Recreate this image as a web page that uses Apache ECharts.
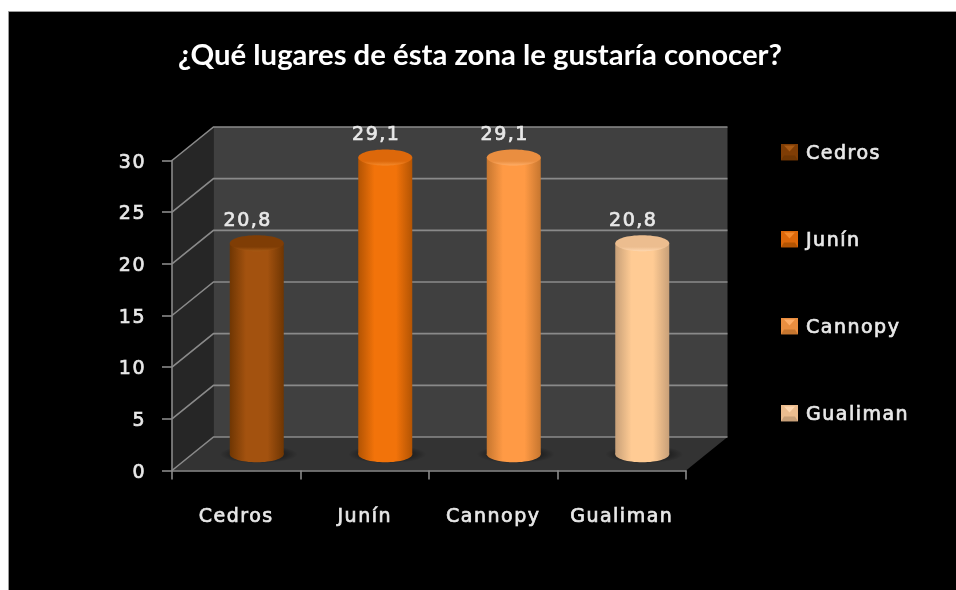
<!DOCTYPE html>
<html><head><meta charset="utf-8">
<style>
html,body{margin:0;padding:0;background:#fff}
#c{width:956px;height:590px;filter:blur(.45px)}
#c text[style*="DejaVu"]{letter-spacing:1.5px;stroke:#e8e8e8;stroke-width:.7px}
</style>
<script src="https://cdn.jsdelivr.net/npm/echarts@6/dist/echarts.min.js"></script>
</head><body><div id="c"></div>
<script>
const titleText = '¿Qué lugares de ésta zona le gustaría conocer?';
const categories = ['Cedros','Junín','Cannopy','Gualiman'];
const values = [20.8, 29.1, 29.1, 20.8];
const yTicks = [0,5,10,15,20,25,30];
const edgeColors = ['#6f3603','#b35403','#c6762f','#c8a078'];
const midColors = ['#a3520f','#f2730a','#ff9a45','#ffcb94'];
const topColors = ['#7f3d05','#dd680a','#ea8e40','#ecbd8f'];
const rimColors = ['#a85a14','#f58a2c','#ffae68','#ffd8b0'];

const DX = 41.5, DY = -33.5;      // depth of the fake 3D box
const LABEL = '#e8e8e8', GRID = '#8a8a8a';
const FONT = 'DejaVu Sans';

function pts(arr){ return {points: arr}; }

function renderBox(params, api){
  const cs = params.coordSys;
  const l = cs.x, r = cs.x + cs.width, t = cs.y, b = cs.y + cs.height;
  const children = [
    {type:'polygon', shape:pts([[l,t],[l+DX,t+DY],[l+DX,b+DY],[l,b]]), style:{fill:'#262626'}},
    {type:'polygon', shape:pts([[l+DX,t+DY],[r+DX,t+DY],[r+DX,b+DY],[l+DX,b+DY]]), style:{fill:'#404040'}},
    {type:'polygon', shape:pts([[l,b],[r,b],[r+DX,b+DY],[l+DX,b+DY]]), style:{fill:'#333333'}}
  ];
  yTicks.forEach(v=>{
    const y = api.coord([0,v])[1];
    children.push({type:'polyline', shape:pts([[l,y],[l+DX,y+DY],[r+DX,y+DY]]),
      style:{stroke:GRID, lineWidth:1.6, fill:'none'}});
  });
  return {type:'group', children};
}

function renderCylinder(idx){
  return function(params, api){
    const base = api.coord([api.value(0), 0]);
    const top = api.coord([api.value(0), api.value(1)]);
    const cx = base[0] + 20.5, rx = 27, ry = 8;
    const by = base[1] - 16.2, ty = top[1] - 12.2;
    const grad = {type:'linear',x:0,y:0,x2:1,y2:0,colorStops:[
      {offset:0,color:edgeColors[idx]},{offset:.3,color:midColors[idx]},
      {offset:.7,color:midColors[idx]},{offset:1,color:edgeColors[idx]}]};
    const topGrad = {type:'linear',x:0,y:0,x2:0,y2:1,colorStops:[
      {offset:0,color:topColors[idx]},{offset:.72,color:topColors[idx]},{offset:1,color:rimColors[idx]}]};
    const shadow = {type:'radial',x:.5,y:.5,r:.5,colorStops:[
      {offset:0,color:'rgba(0,0,0,.55)'},{offset:.7,color:'rgba(0,0,0,.3)'},{offset:1,color:'rgba(0,0,0,0)'}]};
    return {type:'group', children:[
      {type:'ellipse', shape:{cx:cx+2, cy:by, rx:rx+12, ry:ry+1}, style:{fill:shadow}},
      {type:'ellipse', shape:{cx, cy:by, rx, ry}, style:{fill:grad}},
      {type:'rect', shape:{x:cx-rx, y:ty, width:rx*2, height:by-ty}, style:{fill:grad}},
      {type:'ellipse', shape:{cx, cy:ty, rx, ry}, style:{fill:topGrad}},
      {type:'text', style:{text:String(api.value(1)).replace('.',','), x:cx-9, y:ty-24.5,
        align:'center', verticalAlign:'middle', fill:LABEL, font:'19px "DejaVu Sans"'}}
    ]};
  };
}

function legendIcon(i){
  const e = edgeColors[i], m = midColors[i], t = rimColors[i], d = topColors[i];
  const svg = `<svg xmlns="http://www.w3.org/2000/svg" width="17" height="17">`+
   `<rect width="17" height="17" fill="${d}"/>`+
   `<path d="M3 2H14L8.5 8Z" fill="${t}"/>`+
   `<path d="M0 17H17L14 12H3Z" fill="${e}"/></svg>`;
  return 'image://data:image/svg+xml;charset=utf-8,' + encodeURIComponent(svg);
}

const series = [{
  type:'custom', name:'box', z:1, silent:true, coordinateSystem:'cartesian2d',
  renderItem:renderBox, data:[[0,0]], clip:false
}].concat(categories.map((name,i)=>({
  type:'custom', name, z:2, coordinateSystem:'cartesian2d',
  renderItem:renderCylinder(i), data:[[i, values[i]]], clip:false,
  itemStyle:{color:midColors[i]}, encode:{x:0,y:1}
})));

const chart = echarts.init(document.getElementById('c'), null, {renderer:'svg'});
chart.setOption({
  animation:false,
  backgroundColor:'#fff',
  graphic:[{type:'rect', z:-10, silent:true, shape:{x:8.5,y:11.5,width:1000,height:1000},
    style:{fill:'#000', stroke:'#9a9a9a', lineWidth:1}}],
  title:{text:titleText, left:475, top:34, textAlign:'center',
    textStyle:{color:'#fff', fontSize:29.3, fontWeight:'bold', fontFamily:'Lato'}},
  legend:{orient:'vertical', left:781, top:142.5, padding:0, itemWidth:17, itemHeight:17, itemGap:68,
    data:categories.map((name,i)=>({name, icon:legendIcon(i)})),
    textStyle:{color:LABEL, fontSize:19, fontFamily:FONT, padding:[0,0,0,3]}, selectedMode:false},
  grid:{left:172, right:270, top:160.5, bottom:119.5},
  xAxis:{type:'category', data:categories, z:3,
    axisLine:{lineStyle:{color:GRID, width:1.6}},
    axisTick:{show:true, alignWithLabel:false, length:9, lineStyle:{color:GRID, width:1.6}},
    axisLabel:{color:LABEL, fontSize:19, fontFamily:FONT, margin:35}},
  yAxis:{type:'value', min:0, max:30, interval:5, z:3,
    splitLine:{show:false},
    axisLine:{show:true, lineStyle:{color:GRID, width:1.6}},
    axisTick:{show:true, length:10, lineStyle:{color:GRID, width:1.6}},
    axisLabel:{color:LABEL, fontSize:19, fontFamily:FONT, margin:26, padding:[3,0,0,0]}},
  series
});
</script></body></html>
